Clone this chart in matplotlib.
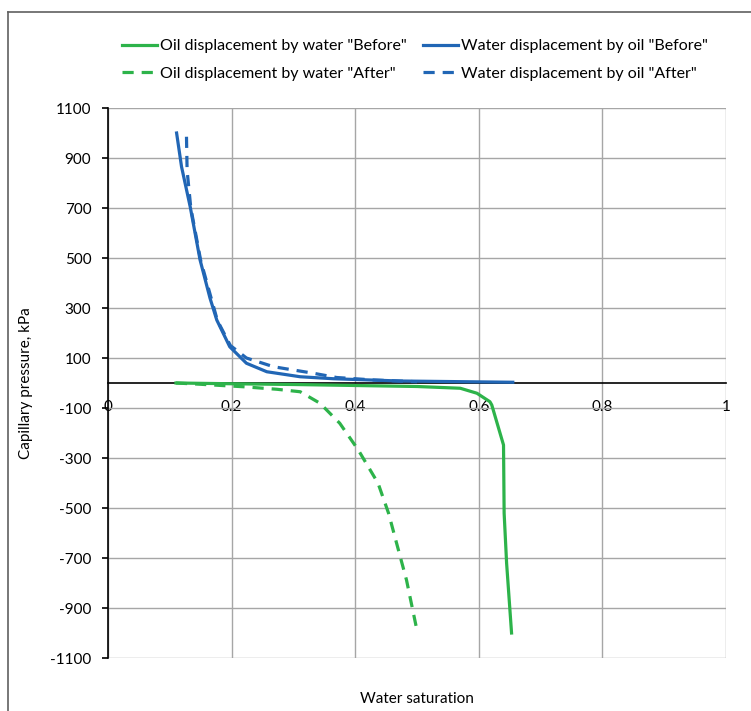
import matplotlib
matplotlib.use("Agg")
import matplotlib.pyplot as plt
from matplotlib.lines import Line2D

plt.rcParams['font.family'] = ['Lato', 'DejaVu Sans']
plt.rcParams['axes.unicode_minus'] = False

# Water displacement by oil "Before"
wo_before_x = [0.111, 0.119, 0.133, 0.149, 0.165, 0.176, 0.197, 0.224, 0.257, 0.311, 0.365, 0.472, 0.655]
wo_before_y = [1000, 865, 705, 492, 340, 252, 145, 79, 45, 25, 17, 8, 3]
# Water displacement by oil "After"
wo_after_x = [0.127, 0.128, 0.134, 0.150, 0.177, 0.198, 0.224, 0.268, 0.300, 0.330, 0.370, 0.430, 0.500]
wo_after_y = [985, 850, 700, 490, 250, 150, 100, 65, 52, 40, 22, 12, 5]
# Oil displacement by water "Before"
ow_before_x = [0.11, 0.20, 0.30, 0.40, 0.50, 0.57, 0.597, 0.618, 0.621, 0.640, 0.641, 0.645, 0.653]
ow_before_y = [0, -3, -6, -10, -14, -21, -41, -75, -88, -248, -521, -721, -1000]
# Oil displacement by water "After"
ow_after_x = [0.11, 0.149, 0.219, 0.273, 0.311, 0.343, 0.375, 0.405, 0.437, 0.454, 0.467, 0.483, 0.500]
ow_after_y = [0, -5, -15, -25, -35, -81, -161, -268, -401, -521, -641, -788, -990]

labels = ['Oil displacement by water "Before"', 'Oil displacement by water "After"',
          'Water displacement by oil "Before"', 'Water displacement by oil "After"']

x_ticks = [0, 0.2, 0.4, 0.6, 0.8, 1]
x_ticklabels = ['0', '0.2', '0.4', '0.6', '0.8', '1']
y_ticks = list(range(-1100, 1101, 200))

green = '#2db34a'
blue = '#2166b5'

fig = plt.figure(figsize=(7.51, 7.11), dpi=100)
ax = fig.add_axes([108/751, 1 - 658/711, (726-108)/751, (658-108)/711])

lw = 2.3
dash = (3.5, 2.5)
l1, = ax.plot(ow_before_x, ow_before_y, color=green, lw=lw, zorder=3)
l2, = ax.plot(ow_after_x, ow_after_y, color=green, lw=lw, dashes=dash, zorder=3)
l3, = ax.plot(wo_before_x, wo_before_y, color=blue, lw=lw, zorder=4)
l4, = ax.plot(wo_after_x, wo_after_y, color=blue, lw=lw, dashes=dash, zorder=4)

ax.set_xlim(0, 1)
ax.set_ylim(-1100, 1100)
ax.set_xticks(x_ticks)
ax.set_xticklabels(x_ticklabels)
ax.set_yticks(y_ticks)
ax.grid(True, color='#a6a6a6', lw=1.0, zorder=0)
ax.set_axisbelow(True)

ax.spines['bottom'].set_position(('data', 0))
ax.spines['bottom'].set_color('black')
ax.spines['bottom'].set_linewidth(1.2)
ax.spines['bottom'].set_zorder(2.5)
ax.spines['left'].set_color('black')
ax.spines['left'].set_linewidth(1.2)
ax.spines['top'].set_visible(False)
ax.spines['right'].set_visible(False)

ax.tick_params(axis='y', length=4, width=1.2, pad=8, labelsize=11, colors='black')
ax.tick_params(axis='x', length=0, pad=12, labelsize=11, colors='black')

ax.set_ylabel('Capillary pressure, kPa', fontsize=11, labelpad=12)
ax.set_xlabel('Water saturation', fontsize=11)
ax.xaxis.set_label_coords(0.5, -0.062)

fig.legend([l1, l2, l3, l4], labels, ncol=2, loc='center', bbox_to_anchor=(415/751, 1 - 60/711),
           frameon=False, fontsize=11.5, handlelength=2.2, handletextpad=0.2,
           columnspacing=1.0, labelspacing=0.85)

# figure border (left and top)
fig.add_artist(Line2D([7.5/751, 7.5/751], [0, 1 - 12/711], transform=fig.transFigure, color='#606060', lw=1.2))
fig.add_artist(Line2D([7.5/751, 1], [1 - 12/711, 1 - 12/711], transform=fig.transFigure, color='#606060', lw=1.2))

fig.savefig('out.png', dpi=100)
